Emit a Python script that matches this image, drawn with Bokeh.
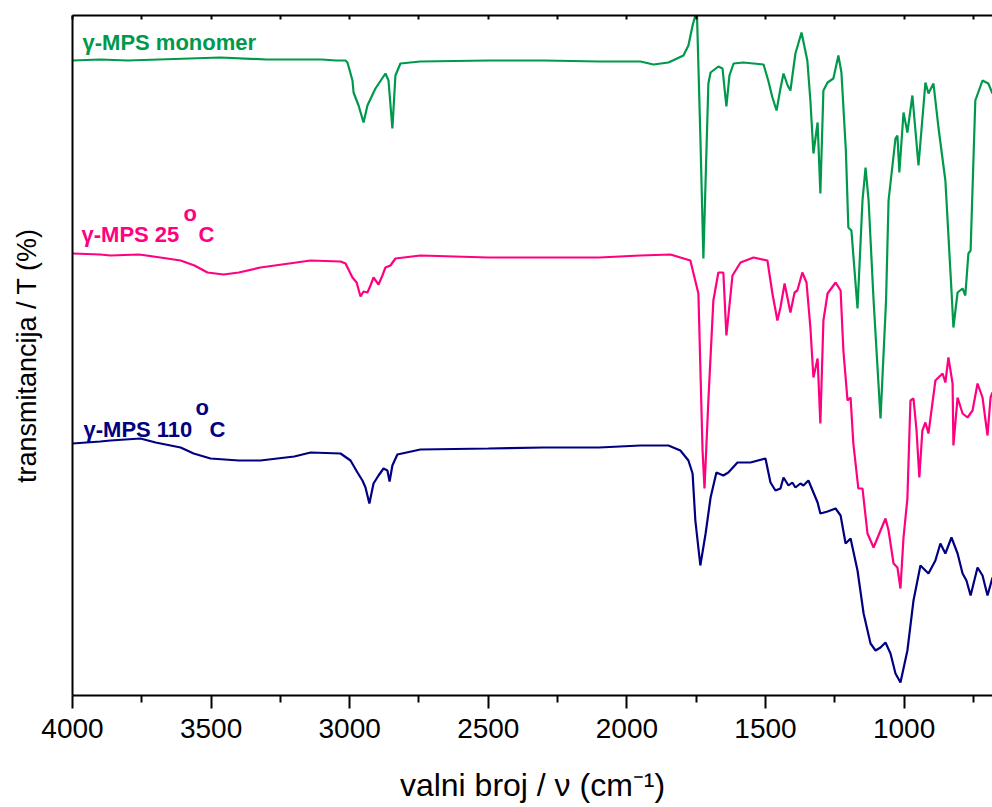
from bokeh.plotting import figure
from bokeh.models import Range1d, FixedTicker, LinearAxis, Label
from bokeh.embed import file_html
from bokeh.resources import INLINE

# wavenumber (cm^-1) and offset transmittance (a.u.)
mono_w = [4000, 3900, 3800, 3466, 3300, 3100, 3050, 3015, 3008, 2990, 2986, 2968, 2950, 2936, 2914,
          2907, 2871, 2860, 2846, 2835, 2817, 2745, 2500, 2300, 2100, 1951, 1904, 1850, 1796, 1778,
          1763, 1753, 1748, 1735, 1724, 1716, 1706, 1698, 1670, 1655, 1641, 1630, 1615, 1580, 1507,
          1490, 1475, 1460, 1446, 1435, 1420, 1410, 1392, 1370, 1349, 1338, 1327, 1312, 1302, 1291,
          1276, 1255, 1237, 1226, 1210, 1201, 1190, 1168, 1150, 1139, 1128, 1110, 1085, 1065, 1056,
          1031, 1024, 1017, 1002, 988, 970, 948, 923, 912, 894, 876, 851, 829, 822, 807,
          789, 779, 768, 760, 743, 717, 696, 681]
mono_t = [635, 636, 635, 638, 636, 636, 635, 635, 633, 615, 603, 590, 573, 590, 603,
          607, 622, 615, 567, 620, 632, 634, 635, 635, 634, 634, 631, 633, 640, 650,
          670, 680, 690, 560, 437, 515, 612, 623, 629, 627, 589, 620, 632, 633, 631,
          615, 598, 585, 607, 622, 610, 605, 642, 663, 635, 595, 542, 573, 502, 605,
          613, 617, 640, 623, 545, 468, 465, 387, 495, 528, 495, 395, 277, 395, 495,
          557, 560, 523, 583, 563, 600, 530, 613, 602, 612, 568, 515, 405, 368, 403,
          407, 400, 442, 445, 595, 615, 612, 602]

t25_w = [4000, 3900, 3863, 3760, 3683, 3610, 3560, 3513, 3455, 3400, 3322, 3141, 3033, 3015, 2990,
         2975, 2961, 2950, 2936, 2925, 2914, 2896, 2882, 2871, 2853, 2835, 2745, 2500, 2300, 2100,
         1951, 1843, 1771, 1742, 1727, 1720, 1706, 1688, 1670, 1652, 1641, 1619, 1590, 1543, 1493,
         1475, 1457, 1446, 1431, 1410, 1395, 1385, 1367, 1352, 1338, 1327, 1312, 1302, 1291, 1276,
         1247, 1229, 1219, 1204, 1193, 1183, 1165, 1150, 1132, 1110, 1085, 1067, 1056, 1038, 1024,
         1013, 1002, 988, 977, 966, 955, 945, 934, 923, 912, 887, 861, 851, 840, 825,
         822, 807, 789, 771, 753, 735, 717, 699, 688, 681]
t25_t = [442, 441, 440, 441, 438, 435, 430, 423, 421, 423, 428, 435, 434, 432, 418,
         413, 399, 404, 403, 410, 418, 411, 420, 428, 430, 437, 440, 438, 438, 438,
         440, 441, 435, 402, 245, 207, 295, 395, 423, 423, 360, 420, 433, 438, 435,
         402, 375, 388, 412, 383, 403, 405, 423, 413, 368, 318, 337, 272, 375, 402,
         413, 405, 345, 295, 298, 252, 207, 207, 162, 148, 165, 177, 165, 132, 128,
         107, 158, 197, 295, 297, 265, 218, 265, 273, 262, 315, 322, 313, 338, 312,
         250, 298, 282, 278, 285, 312, 298, 260, 298, 303]

t110_w = [4000, 3900, 3863, 3755, 3700, 3610, 3563, 3502, 3400, 3322, 3200, 3141, 3033, 2997, 2972,
          2954, 2943, 2929, 2914, 2896, 2878, 2864, 2856, 2846, 2828, 2745, 2500, 2300, 2100, 1951,
          1850, 1807, 1778, 1763, 1753, 1735, 1716, 1698, 1677, 1652, 1634, 1601, 1554, 1500, 1482,
          1464, 1446, 1435, 1417, 1403, 1392, 1374, 1363, 1345, 1327, 1312, 1302, 1276, 1247, 1229,
          1211, 1193, 1168, 1146, 1121, 1103, 1085, 1067, 1049, 1031, 1013, 988, 966, 941, 912, 887,
          869, 851, 829, 807, 789, 775, 760, 735, 717, 699, 681]
t110_t = [252, 254, 255, 257, 253, 248, 242, 237, 235, 235, 239, 243, 242, 235, 223,
          215, 208, 192, 212, 220, 227, 225, 214, 230, 241, 246, 247, 248, 248, 250,
          250, 245, 235, 222, 175, 130, 162, 198, 223, 220, 223, 233, 233, 237, 213,
          205, 207, 218, 210, 213, 208, 212, 210, 215, 203, 193, 182, 184, 187, 180,
          152, 157, 125, 82, 52, 45, 48, 53, 42, 22, 13, 45, 95, 130, 122, 135,
          152, 142, 158, 142, 122, 115, 100, 128, 120, 100, 118]

major_ticks = [4000, 3500, 3000, 2500, 2000, 1500, 1000]
minor_ticks = [3750, 3250, 2750, 2250, 1750, 1250, 750]
top_ticks = [4000, 3750, 3500, 3250, 3000, 2750, 2500, 2250, 2000, 1750, 1500, 1250, 1000, 750]

GREEN = "#00994C"
PINK = "#FF0080"
NAVY = "#000080"

p = figure(width=992, height=807, x_range=Range1d(4000, 681), y_range=Range1d(0, 680),
           output_backend="svg", toolbar_location=None,
           min_border_left=72, min_border_right=0, min_border_top=15, min_border_bottom=112)
p.outline_line_color = None
p.xgrid.visible = False
p.ygrid.visible = False

p.line(mono_w, mono_t, line_color=GREEN, line_width=2.2)
p.line(t25_w, t25_t, line_color=PINK, line_width=2.2)
p.line(t110_w, t110_t, line_color=NAVY, line_width=2.2)

xa = p.xaxis[0]
xa.ticker = FixedTicker(ticks=major_ticks, minor_ticks=minor_ticks)
xa.axis_line_width = 2
xa.major_tick_line_width = 2
xa.minor_tick_line_width = 2
xa.major_tick_out = 13
xa.major_tick_in = 0
xa.minor_tick_out = 7
xa.minor_tick_in = 0
xa.major_label_text_font = "Liberation Sans"
xa.major_label_text_font_size = "28px"
xa.major_label_text_color = "black"
xa.major_label_standoff = 10
xa.axis_label = "valni broj / ν (cm⁻¹)"
xa.axis_label_text_font = "Liberation Sans"
xa.axis_label_text_font_size = "32px"
xa.axis_label_text_font_style = "normal"
xa.axis_label_text_color = "black"
xa.axis_label_standoff = 26

ya = p.yaxis[0]
ya.ticker = FixedTicker(ticks=[])
ya.axis_line_width = 2
ya.major_tick_out = 0
ya.major_label_standoff = 0
ya.axis_label = "transmitancija / T (%)"
ya.axis_label_text_font = "Liberation Sans"
ya.axis_label_text_font_size = "27px"
ya.axis_label_text_font_style = "normal"
ya.axis_label_text_color = "black"
ya.axis_label_standoff = 31

top = LinearAxis(ticker=FixedTicker(ticks=top_ticks),
                 axis_line_width=2, major_tick_in=4, major_tick_out=0, minor_tick_in=0,
                 minor_tick_out=0, major_tick_line_width=2, major_label_text_font_size="6px",
                 major_label_overrides={t: "" for t in top_ticks},
                 major_label_standoff=0)
p.add_layout(top, "above")

def lab(text, x, y, size, color, baseline="alphabetic"):
    p.add_layout(Label(x=x, y=y, x_units="screen", y_units="screen", text=text,
                       text_font="Liberation Sans", text_font_size=size, text_color=color,
                       text_font_style="bold", text_align="left", text_baseline=baseline))

# series labels (screen offsets relative to plot frame)
lab("γ-MPS monomer", 10, 653, "22px", GREEN)
lab("γ-MPS 25", 9, 461, "22px", PINK)
lab("o", 111, 482, "22px", PINK)
lab("C", 126, 461, "22px", PINK)
lab("γ-MPS 110", 11, 266, "22px", NAVY)
lab("o", 123, 288, "22px", NAVY)
lab("C", 137, 266, "22px", NAVY)

open("out.html", "w").write(file_html(p, INLINE))
